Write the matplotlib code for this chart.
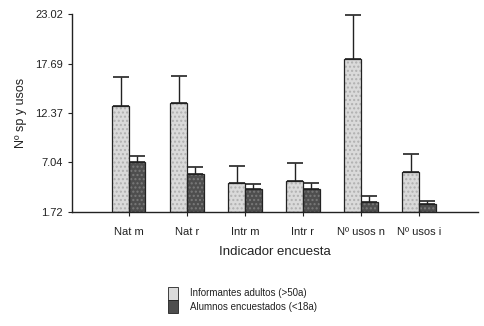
import matplotlib
matplotlib.use('Agg')
import matplotlib.pyplot as plt
import numpy as np

plt.rcParams['font.family'] = ['Liberation Sans', 'DejaVu Sans']

# datos
categorias = ["Nat m", "Nat r", "Intr m", "Intr r", "Nº usos n", "Nº usos i"]
adultos = [13.1, 13.4, 4.8, 5.0, 18.2, 6.0]
adultos_err = [3.1, 3.0, 1.9, 2.0, 4.7, 2.0]
alumnos = [7.1, 5.8, 4.2, 4.2, 2.8, 2.55]
alumnos_err = [0.65, 0.75, 0.5, 0.65, 0.65, 0.35]
yticks = [1.72, 7.04, 12.37, 17.69, 23.02]
etiquetas = ["Informantes adultos (>50a)", "Alumnos encuestados (<18a)"]

fig = plt.figure(figsize=(4.84, 3.26), dpi=100)
ax = fig.add_axes([0.149, 0.35, 0.839, 0.607])

x = np.arange(len(categorias))
w = 0.285
base = yticks[0]

# relleno punteado (hatch en gris) y contorno negro por separado
ax.bar(x - w / 2, np.array(adultos) - base, w, bottom=base,
       color='#dadada', edgecolor='#b0b0b0', linewidth=0, hatch='....')
ax.bar(x + w / 2, np.array(alumnos) - base, w, bottom=base,
       color='#4e4e4e', edgecolor='#7a7a7a', linewidth=0, hatch='....')
ax.bar(x - w / 2, np.array(adultos) - base, w, bottom=base,
       fill=False, edgecolor='#222222', linewidth=0.9)
ax.bar(x + w / 2, np.array(alumnos) - base, w, bottom=base,
       fill=False, edgecolor='#222222', linewidth=0.9)
ax.errorbar(x - w / 2, adultos, yerr=[np.zeros(len(x)), adultos_err], fmt='none',
            ecolor='#222222', elinewidth=1.0, capsize=6, capthick=1.2)
ax.errorbar(x + w / 2, alumnos, yerr=[np.zeros(len(x)), alumnos_err], fmt='none',
            ecolor='#222222', elinewidth=1.0, capsize=6, capthick=1.2)

ax.set_xlim(-0.98, 6.02)
ax.set_ylim(base, yticks[-1])
ax.set_yticks(yticks)
ax.set_yticklabels([f"{v:.2f}" for v in yticks], fontsize=8, color='#222222')
ax.set_xticks(x)
ax.set_xticklabels(categorias, fontsize=8, color='#222222')
ax.tick_params(axis='both', direction='out', length=3, color='#222222', width=0.8)
ax.tick_params(axis='x', pad=8)
for s in ['top', 'right']:
    ax.spines[s].set_visible(False)
for s in ['left', 'bottom']:
    ax.spines[s].set_color('#222222')
    ax.spines[s].set_linewidth(1.0)

ax.set_ylabel("Nº sp y usos", fontsize=9, color='#222222', labelpad=6)
ax.set_xlabel("Indicador encuesta", fontsize=9.5, color='#222222', labelpad=6)

h1 = plt.Rectangle((0, 0), 1, 1, facecolor='#dadada', edgecolor='#222222', linewidth=0.6)
h2 = plt.Rectangle((0, 0), 1, 1, facecolor='#4e4e4e', edgecolor='#222222', linewidth=0.6)
fig.legend([h1, h2], etiquetas, loc='center left', bbox_to_anchor=(0.33, 0.08),
           frameon=False, fontsize=7, handlelength=1.0, handleheight=1.7,
           handletextpad=1.2, labelspacing=0.05, labelcolor='#222222')

fig.savefig("out.png", dpi=100)
plt.close(fig)
